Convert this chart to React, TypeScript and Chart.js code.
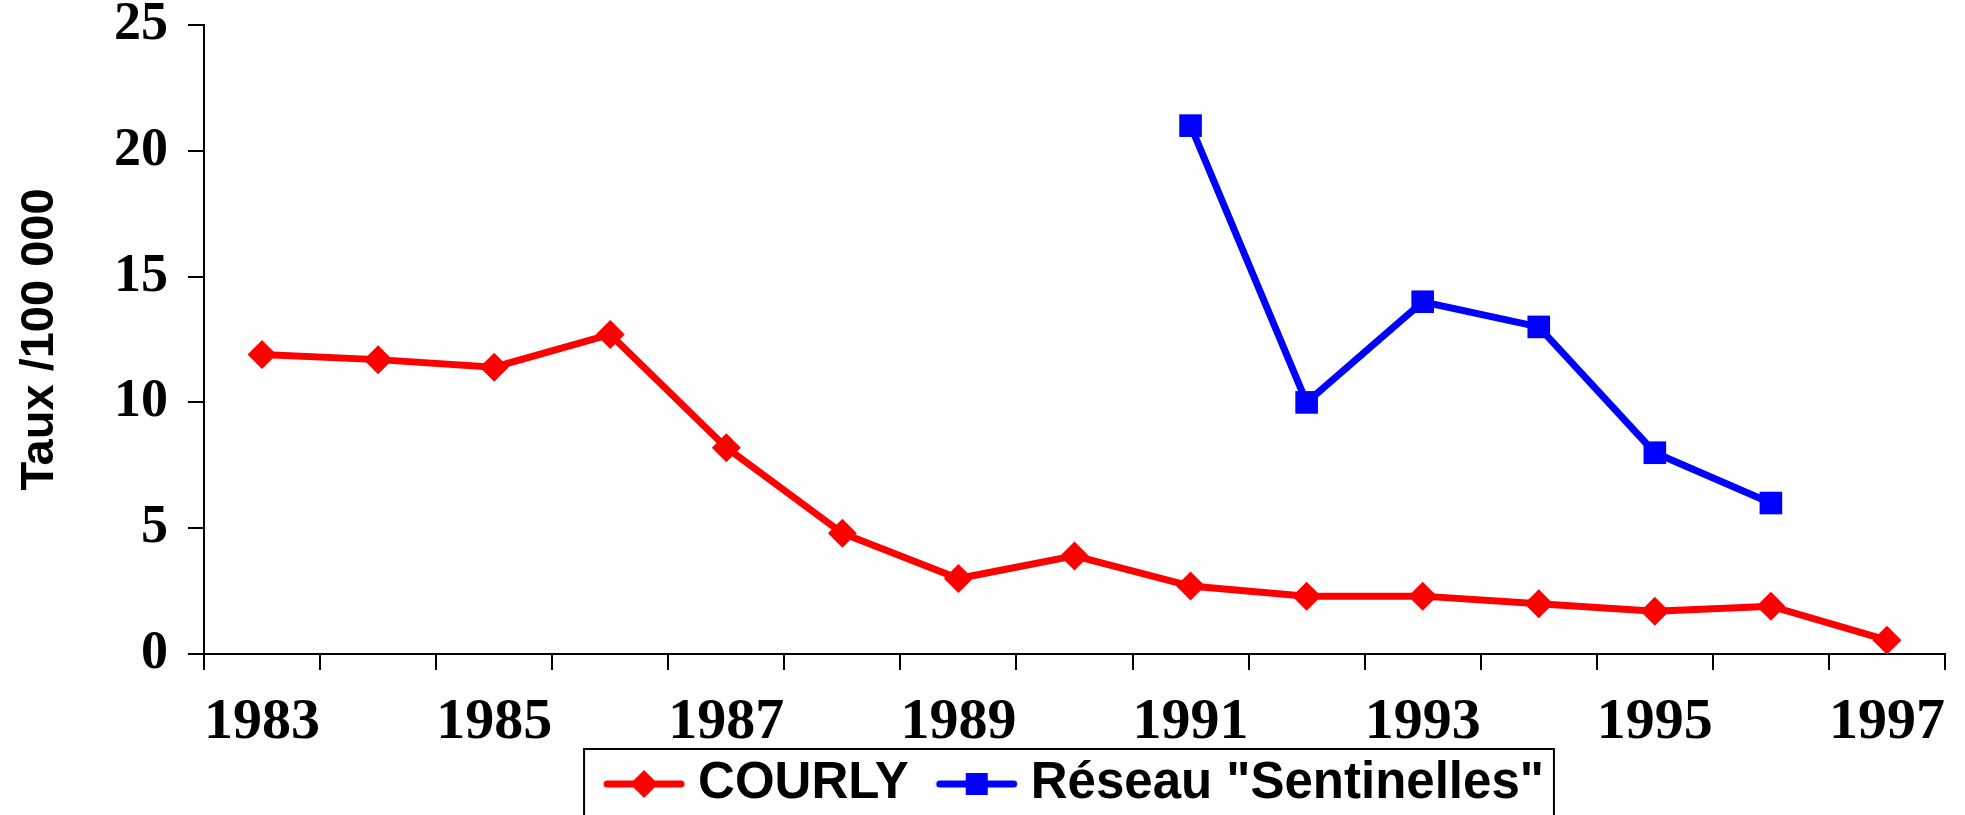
import React, { useEffect, useRef } from "react";
import { Chart, registerables } from "chart.js";

Chart.register(...registerables);

const years = ["1983", "1984", "1985", "1986", "1987", "1988", "1989", "1990", "1991", "1992", "1993", "1994", "1995", "1996", "1997"];
const courly = [11.9, 11.7, 11.4, 12.7, 8.2, 4.8, 3.0, 3.9, 2.7, 2.3, 2.3, 2.0, 1.7, 1.9, 0.55];
const sentinelles = [null, null, null, null, null, null, null, null, 21, 10, 14, 13, 8, 6, null];
const yTicks = [0, 5, 10, 15, 20, 25];
const seriesNames = ["COURLY", 'Réseau "Sentinelles"'];
const yTitle = "Taux /100 000";

const RED = "#FF0000";
const BLUE = "#0000FF";

const LEGEND_FONT = 51;
const LEGEND_PAD = 9.5;
const ICON_OFFSET = 17.5;
const ICON_W = 82;
const BOX_W = ICON_OFFSET + ICON_W + 13 - LEGEND_FONT / 2;

function makeIcon(color: string, kind: "diamond" | "square"): HTMLCanvasElement {
  const W = 220;
  const c = document.createElement("canvas");
  c.width = W;
  c.height = 34;
  const ctx = c.getContext("2d")!;
  const x0 = W / 2 - (BOX_W / 2 - ICON_OFFSET);
  ctx.strokeStyle = color;
  ctx.fillStyle = color;
  ctx.lineWidth = 7;
  ctx.lineCap = "round";
  ctx.beginPath();
  ctx.moveTo(x0 + 4, 17);
  ctx.lineTo(x0 + ICON_W - 4, 17);
  ctx.stroke();
  const cx = x0 + ICON_W / 2;
  ctx.beginPath();
  if (kind === "diamond") {
    ctx.moveTo(cx, 3);
    ctx.lineTo(cx + 14, 17);
    ctx.lineTo(cx, 31);
    ctx.lineTo(cx - 14, 17);
    ctx.closePath();
  } else {
    ctx.rect(cx - 11, 6, 22, 22);
  }
  ctx.fill();
  return c;
}

const legendShift = {
  id: "legendShift",
  afterLayout(chart: any) {
    const lg = chart.legend;
    if (!lg) return;
    const dx = -(ICON_OFFSET / 2 + 1);
    lg.left += dx;
    lg.right += dx;
  },
};

const legendBorder = {
  id: "legendBorder",
  afterDraw(chart: any) {
    const lg = chart.legend;
    if (!lg || !lg.legendHitBoxes || !lg.legendHitBoxes.length) return;
    const hb = lg.legendHitBoxes;
    const first = hb[0];
    const last = hb[hb.length - 1];
    const ctx = chart.ctx;
    const left = first.left + ICON_OFFSET - 19;
    const right = last.left + last.width + 10;
    const top = lg.top;
    ctx.save();
    ctx.strokeStyle = "#000";
    ctx.lineWidth = 2;
    ctx.strokeRect(left, top, right - left, chart.height - top + 20);
    ctx.restore();
  },
};

export default function App() {
  const ref = useRef<HTMLCanvasElement>(null);
  useEffect(() => {
    if (!ref.current) return;
    const icons = [makeIcon(RED, "diamond"), makeIcon(BLUE, "square")];
    const chart = new Chart(ref.current, {
      type: "line",
      data: {
        labels: years,
        datasets: [
          {
            label: seriesNames[0],
            data: courly,
            borderColor: RED,
            backgroundColor: RED,
            borderWidth: 7,
            pointStyle: "rectRot",
            pointRadius: 14.5,
            pointBackgroundColor: RED,
            pointBorderColor: RED,
            pointBorderWidth: 0,
            tension: 0,
          },
          {
            label: seriesNames[1],
            data: sentinelles,
            borderColor: BLUE,
            backgroundColor: BLUE,
            borderWidth: 7,
            pointStyle: "rect",
            pointRadius: 16,
            pointBackgroundColor: BLUE,
            pointBorderColor: BLUE,
            pointBorderWidth: 0,
            tension: 0,
          },
        ],
      },
      options: {
        responsive: false,
        animation: false,
        layout: { padding: { left: 0, right: 20, top: 0, bottom: 20.5 } },
        plugins: {
          tooltip: { enabled: false },
          legend: {
            position: "bottom",
            fullSize: false,
            labels: {
              usePointStyle: true,
              pointStyleWidth: BOX_W,
              padding: LEGEND_PAD,
              color: "#000",
              font: { family: "'Liberation Sans', Arial, sans-serif", size: LEGEND_FONT, weight: "bold" },
              generateLabels: (ch: any) =>
                ch.data.datasets.map((ds: any, i: number) => ({
                  text: ds.label,
                  pointStyle: icons[i],
                  fillStyle: ds.borderColor,
                  strokeStyle: ds.borderColor,
                  lineWidth: 0,
                  hidden: false,
                  datasetIndex: i,
                  fontColor: "#000",
                })),
            },
          },
        },
        scales: {
          x: {
            type: "category",
            offset: true,
            afterFit: (s: any) => {
              s.height = 95;
              s.paddingLeft = 0;
              s.paddingRight = 0;
            },
            grid: {
              offset: true,
              drawOnChartArea: false,
              drawTicks: true,
              tickLength: 16,
              color: "#000",
              lineWidth: 2,
            },
            border: { display: true, color: "#000", width: 2 },
            ticks: {
              autoSkip: false,
              maxRotation: 0,
              padding: 23,
              color: "#000",
              font: { family: "'Liberation Serif', 'Times New Roman', serif", size: 58, weight: "bold", lineHeight: 1.05 },
              callback: (_v: any, i: number) => (i % 2 === 0 ? years[i] : ""),
            },
          },
          y: {
            min: 0,
            max: 25,
            afterFit: (s: any) => {
              s.width = 204;
            },
            afterBuildTicks: (s: any) => {
              s.ticks = yTicks.map((v) => ({ value: v }));
            },
            grid: {
              drawOnChartArea: false,
              drawTicks: true,
              tickLength: 16,
              color: "#000",
              lineWidth: 2,
            },
            border: { display: true, color: "#000", width: 2 },
            ticks: {
              padding: 20,
              color: "#000",
              font: { family: "'Liberation Serif', 'Times New Roman', serif", size: 54, weight: "bold", lineHeight: 0.185 },
            },
            title: {
              display: true,
              text: yTitle,
              color: "#000",
              padding: { top: 12, bottom: 0 },
              font: { family: "'Liberation Sans', Arial, sans-serif", size: 47, weight: "bold" },
            },
          },
        },
      },
      plugins: [legendShift, legendBorder],
    });
    return () => chart.destroy();
  }, []);
  return (
    <div style={{ position: "absolute", left: 0, top: 0, width: 1965, height: 815, overflow: "hidden", background: "#fff" }}>
      <canvas ref={ref} width={1965} height={840} style={{ display: "block" }} />
    </div>
  );
}
